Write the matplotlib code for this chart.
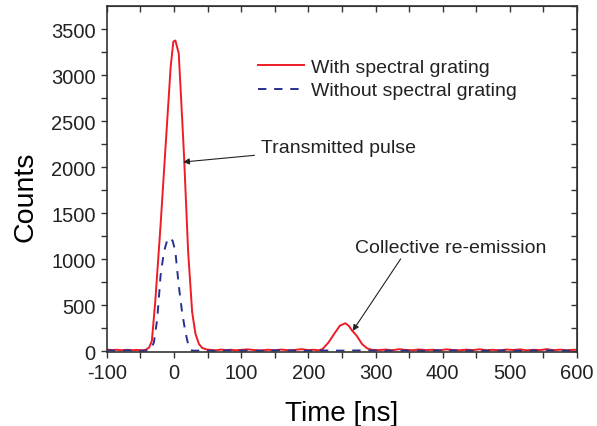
import matplotlib
matplotlib.use('Agg')
import matplotlib.pyplot as plt

# With spectral grating (red, solid)
t_with = [-100, -92, -85, -78, -70, -62, -55, -48, -42, -37, -33, -28, -20, -13, -5, -1, 2, 7,
          12, 15, 21, 27, 32, 37, 42, 48, 55, 62, 70, 78, 85, 92, 100, 110, 120, 130, 140, 150,
          160, 170, 180, 190, 200, 208, 215, 221, 230, 240, 247, 255, 260, 265, 272, 280, 288,
          295, 305, 315, 325, 335, 345, 355, 365, 375, 385, 395, 405, 415, 425, 435, 445, 455,
          465, 475, 485, 495, 505, 515, 525, 535, 545, 555, 565, 575, 585, 595, 600]
c_with = [18, 12, 16, 10, 15, 11, 14, 10, 16, 40, 113, 534, 1375, 2180, 3094, 3368, 3380, 3240,
          2545, 2107, 1083, 424, 187, 80, 35, 20, 14, 10, 18, 12, 16, 10, 15, 20, 12, 9, 16, 11,
          18, 10, 14, 22, 12, 16, 10, 22, 95, 205, 278, 304, 278, 225, 168, 77, 29,
          15, 12, 18, 10, 22, 14, 11, 19, 12, 16, 9, 20, 14, 10, 17, 12, 21,
          11, 15, 9, 18, 13, 20, 10, 15, 12, 22, 11, 17, 10, 16, 14]

# Without spectral grating (blue, dashed)
t_without = [-100, -85, -70, -55, -45, -38, -34, -30, -25, -20, -15, -10, -6, -2, 2, 7, 12, 17,
             21, 25, 30, 40, 60, 80, 100, 130, 160, 190, 220, 250, 280, 310, 340, 370, 400,
             430, 460, 490, 520, 550, 580, 600]
c_without = [8, 5, 10, 6, 4, 8, 30, 95, 351, 826, 1083, 1210, 1236, 1200, 1083, 717, 424, 205,
             77, 10, 5, 8, 4, 9, 6, 5, 10, 4, 8, 6, 9, 5, 7, 4, 10,
             6, 5, 8, 4, 9, 6, 7]

plt.rcParams.update({
    'font.family': ['Liberation Sans', 'DejaVu Sans'],
    'axes.unicode_minus': False,
    'text.color': '#222222',
    'axes.edgecolor': '#333333',
    'xtick.color': '#333333',
    'ytick.color': '#333333',
    'xtick.labelcolor': '#222222',
    'ytick.labelcolor': '#222222',
})

fig = plt.figure(figsize=(5.97, 4.27), dpi=100)
ax = fig.add_axes([0.179, 0.173, 0.7875, 0.8095])

ax.plot(t_with, c_with, '-', color='#ee1c25', lw=1.4, label='With spectral grating')
ax.plot(t_without, c_without, '--', color='#27318f', lw=1.4, dashes=(4.3, 4.0),
        label='Without spectral grating')

ax.set_xlim(-100, 600)
ax.set_ylim(-10, 3750)
ax.set_xticks(range(-100, 601, 100))
ax.set_xticks(range(-50, 600, 100), minor=True)
ax.set_yticks(range(0, 3501, 500))
ax.set_yticks(range(250, 3750, 500), minor=True)
ax.tick_params(which='both', direction='out', length=4.5, width=1.0, pad=3.5, labelsize=14.5)
for s in ax.spines.values():
    s.set_linewidth(1.2)

top = ax.secondary_xaxis('top')
top.set_xticks(range(-100, 601, 50))
top.tick_params(direction='in', length=4.5, width=1.0, labeltop=False)
right = ax.secondary_yaxis('right')
right.set_yticks(range(0, 3751, 250))
right.tick_params(direction='in', length=4.5, width=1.0, labelright=False)

ax.set_xlabel('Time [ns]', fontsize=20, labelpad=13)
ax.set_ylabel('Counts', fontsize=20.5)
ax.yaxis.set_label_coords(-0.145, 0.452)

ax.legend(loc='upper left', bbox_to_anchor=(0.321, 0.85), frameon=False, fontsize=14,
          handlelength=2.4, handletextpad=0.35, labelspacing=0.3, borderpad=0, borderaxespad=0)

ax.annotate('Transmitted pulse', xy=(13.6, 2058), xytext=(130, 2217), fontsize=14,
            va='center', ha='left',
            arrowprops=dict(arrowstyle='-|>', color='#222222', lw=0.8, mutation_scale=9,
                            shrinkA=3, shrinkB=0))
ax.annotate('Collective re-emission', xy=(266, 221), xytext=(269, 1127), fontsize=14,
            va='center', ha='left',
            arrowprops=dict(arrowstyle='-|>', color='#222222', lw=0.8, mutation_scale=9,
                            shrinkA=0, shrinkB=0, relpos=(0.25, 0)))

fig.savefig('out.png', dpi=100)
